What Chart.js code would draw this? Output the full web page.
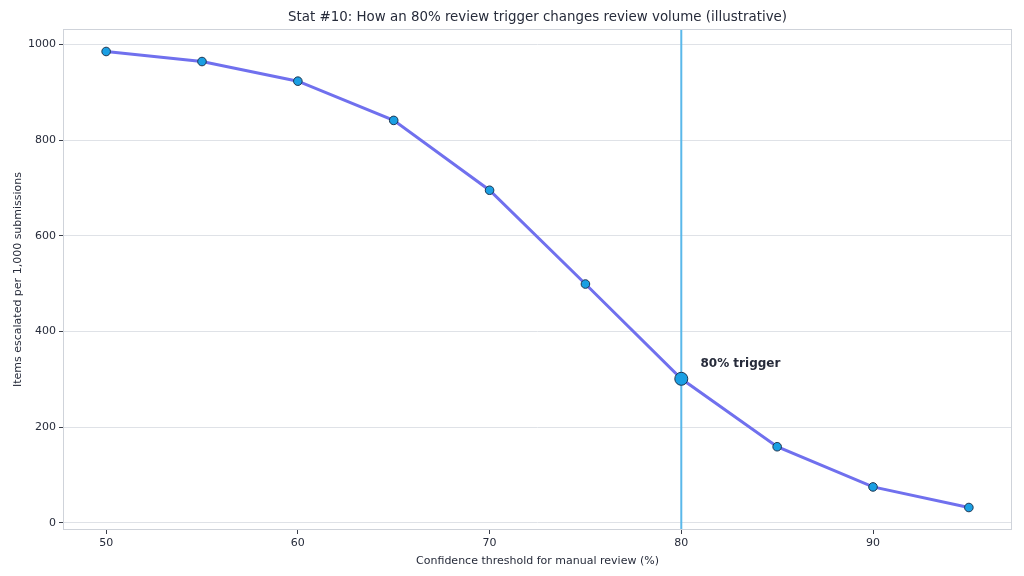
<!DOCTYPE html>
<html>
<head>
<meta charset="utf-8">
<script src="https://cdn.jsdelivr.net/npm/chart.js@4.4.1/dist/chart.umd.min.js"></script>
<style>
  html, body { margin: 0; padding: 0; background: #fff; }
  #wrap { width: 1024px; height: 576px; }
</style>
</head>
<body>
<div id="wrap"><canvas id="chart" width="1024" height="576"></canvas></div>
<script>
/* ===== DATA ===== */
const thresholds = [50, 55, 60, 65, 70, 75, 80, 85, 90, 95];
const escalated = [985, 964, 923, 841, 695, 499, 301, 159, 75, 32];
const xTicks = [50, 60, 70, 80, 90];
const yTicks = [0, 200, 400, 600, 800, 1000];
const triggerAt = 80;
const triggerLabel = '80% trigger';
const chartTitle = 'Stat #10: How an 80% review trigger changes review volume (illustrative)';

const INK = '#262b3a';
const LINE = '#7070ee';
const DOT = '#1a9fe3';
const VLINE = '#5ab8ea';
const FRAME = '#cfd3da';

Chart.defaults.font.family = "'DejaVu Sans', sans-serif";
Chart.defaults.color = INK;

/* ===== FRAME, TITLE + LABEL PLUGIN ===== */
// title is centred over the plot area, not the canvas
const extras = {
  id: 'extras',
  afterDatasetsDraw(chart) {
    const { ctx, chartArea: a, scales } = chart;
    ctx.save();
    ctx.strokeStyle = FRAME;
    ctx.lineWidth = 1;
    ctx.strokeRect(a.left + 0.5, a.top + 0.5, a.right - a.left - 1, a.bottom - a.top - 1);
    ctx.fillStyle = INK;
    ctx.textBaseline = 'middle';
    ctx.textAlign = 'center';
    ctx.font = "13.4px 'DejaVu Sans', sans-serif";
    ctx.fillText(chartTitle, (a.left + a.right) / 2, 18);
    ctx.textAlign = 'left';
    ctx.font = "bold 12px 'DejaVu Sans', sans-serif";
    ctx.fillText(triggerLabel, scales.x.getPixelForValue(triggerAt + 1), scales.y.getPixelForValue(332));
    ctx.restore();
  }
};

const idx = thresholds.indexOf(triggerAt);

new Chart(document.getElementById('chart'), {
  type: 'line',
  data: {
    datasets: [{
      data: thresholds.map((t, i) => ({ x: t, y: escalated[i] })),
      borderColor: LINE,
      borderWidth: 3,
      tension: 0,
      pointBackgroundColor: DOT,
      pointBorderColor: '#1e3550',
      pointBorderWidth: 1,
      pointRadius: thresholds.map((t, i) => i === idx ? 6.5 : 4.3),
      order: 1
    }, {
      data: [{ x: triggerAt, y: -15 }, { x: triggerAt, y: 1032 }],
      borderColor: VLINE,
      borderWidth: 2,
      pointRadius: 0,
      order: 2
    }]
  },
  options: {
    responsive: false,
    animation: false,
    layout: { padding: { left: 8, right: 12, top: 29, bottom: 4 } },
    scales: {
      x: {
        type: 'linear',
        min: 47.75,
        max: 97.25,
        afterBuildTicks: s => { s.ticks = xTicks.map(v => ({ value: v })); },
        afterFit: s => { s.height = 42; },
        grid: { drawOnChartArea: false, tickLength: 4, color: '#3a3f4a' },
        border: { display: false },
        ticks: { font: { size: 11 }, color: INK, padding: 3 },
        title: { display: true, text: 'Confidence threshold for manual review (%)', font: { size: 11 }, color: INK, padding: { top: 2 } }
      },
      y: {
        min: -15,
        max: 1032,
        afterBuildTicks: s => { s.ticks = yTicks.map(v => ({ value: v })); },
        afterFit: s => { s.width = 55; },
        grid: { color: '#dfe2e7', tickLength: 4, tickColor: '#3a3f4a' },
        border: { display: false },
        ticks: { font: { size: 11 }, color: INK, padding: 3, callback: v => String(v) },
        title: { display: true, text: 'Items escalated per 1,000 submissions', font: { size: 11 }, color: INK, padding: { bottom: 4 } }
      }
    },
    plugins: {
      legend: { display: false },
      tooltip: { enabled: false },
      title: { display: false }
    }
  },
  plugins: [extras]
});
</script>
</body>
</html>
